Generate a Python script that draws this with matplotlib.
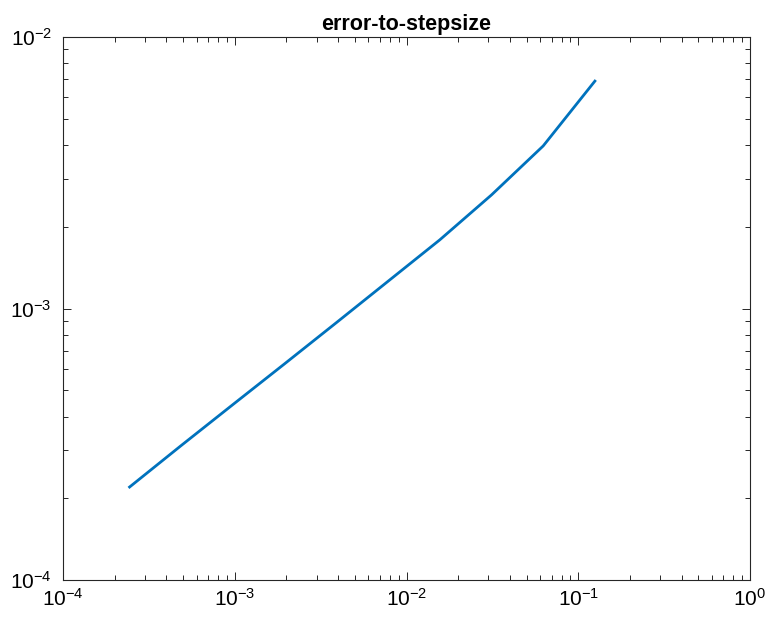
import matplotlib
matplotlib.use("Agg")
import matplotlib.pyplot as plt
from matplotlib.ticker import LogLocator

plt.rcParams['font.family'] = ['Liberation Sans', 'DejaVu Sans']
plt.rcParams['mathtext.default'] = 'regular'

stepsize = [0.125, 0.0625, 0.03125, 0.015625, 0.0078125, 0.00390625,
            0.001953125, 0.0009765625, 0.00048828125, 0.000244140625]
error = [6.88e-3, 3.97e-3, 2.62e-3, 1.79e-3, 1.26e-3, 8.87e-4,
         6.26e-4, 4.43e-4, 3.13e-4, 2.20e-4]

fig = plt.figure(figsize=(7.71, 6.19), dpi=100)
ax = fig.add_axes([63/771, 39/619, (750-63)/771, (580-37)/619])
ax.loglog(stepsize, error, color='#0072BD', linewidth=2.0)
ax.set_xlim(1e-4, 1)
ax.set_ylim(1e-4, 1e-2)
ax.set_title('error-to-stepsize', fontsize=15.5, fontweight='bold', pad=5)

ax.xaxis.set_major_locator(LogLocator(base=10, numticks=10))
ax.yaxis.set_major_locator(LogLocator(base=10, numticks=10))
ax.xaxis.set_minor_locator(LogLocator(base=10, subs=range(2, 10), numticks=20))
ax.yaxis.set_minor_locator(LogLocator(base=10, subs=range(2, 10), numticks=20))

for s in ax.spines.values():
    s.set_color('#262626')
    s.set_linewidth(0.8)
ax.tick_params(which='both', direction='in', top=True, right=True, color='#262626', width=0.7)
ax.tick_params(which='major', length=6, labelsize=15, pad=4)
ax.tick_params(which='minor', length=3.5)
ax.tick_params(axis='y', which='major', pad=8)
ax.tick_params(axis='x', which='major', pad=6)

fig.savefig('out.png', dpi=100)
